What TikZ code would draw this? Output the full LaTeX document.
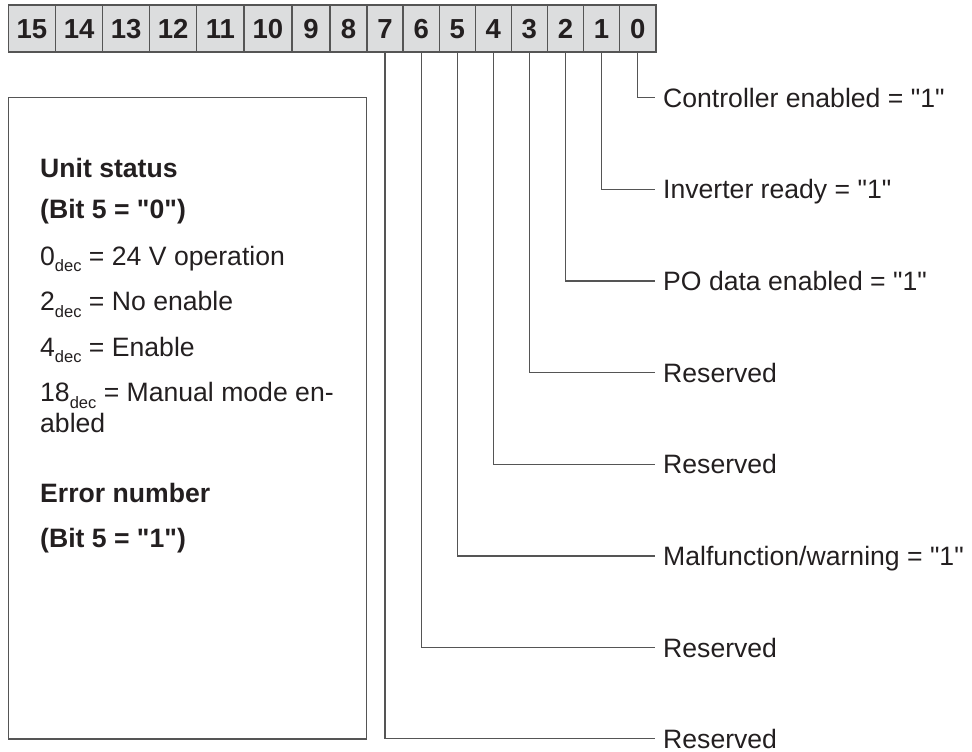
\documentclass[tikz,border=0pt]{standalone}
\usepackage{fontspec}
\setmainfont{Liberation Sans}
\definecolor{ink}{HTML}{231F20}
\definecolor{linec}{HTML}{555555}
\definecolor{cellfill}{HTML}{DCDDDE}
\newcommand{\dsub}{\raisebox{-6.5pt}{\fontsize{16.5}{16.5}\selectfont dec}}
\newcommand{\q}{\textquotedbl}
\tikzset{
  cell/.style={draw=linec, line width=1.3pt, fill=cellfill, inner sep=0pt,
    minimum height=47pt, text height=19.5pt, text depth=0pt, text=ink,
    font=\fontsize{27.5}{28}\selectfont\bfseries},
  lbl/.style={anchor=west, inner xsep=8pt, inner ysep=0pt, text height=19pt,
    text depth=0pt, text=ink, font=\fontsize{26.6}{28}\selectfont},
  boxtxt/.style={anchor=base west, inner sep=0pt, text=ink, font=\fontsize{26.6}{28}\selectfont},
  boxhead/.style={boxtxt, font=\fontsize{26.6}{28}\selectfont\bfseries},
  conn/.style={draw=linec, line width=1.3pt},
  frame/.style={draw=linec, line width=1.3pt, inner sep=0pt}
}
\begin{document}
\begin{tikzpicture}[x=1pt,y=-1pt]
\useasboundingbox (0,0) rectangle (972,752);
% bit cells
\foreach \b/\l/\r in {15/8.3/55.7,14/55.7/102.7,13/102.7/149.7,12/149.7/196.7,
  11/196.7/244,10/244/292,9/292/330,8/330/367,7/367/403,6/403/439.3,
  5/439.3/475.3,4/475.3/511.3,3/511.3/547.3,2/547.3/583.7,1/583.7/619.3,0/619.3/656}
{
  \pgfmathsetmacro{\w}{\r-\l}
  \node[cell, minimum width=\w pt] (c\b) at ({(\l+\r)/2},28.5) {\b};
}
% labels
\node[lbl] (l0) at (655,97.7)  {Controller enabled = \q1\q};
\node[lbl] (l1) at (655,189.3) {Inverter ready = \q1\q};
\node[lbl] (l2) at (655,281) {PO data enabled = \q1\q};
\node[lbl] (l3) at (655,372.6)   {Reserved};
\node[lbl] (l4) at (655,464.2) {Reserved};
\node[lbl] (l5) at (655,555.9) {Malfunction/warning = \q1\q};
\node[lbl] (l6) at (655,647.5) {Reserved};
\node[lbl] (l7) at (655,738.6)   {Reserved};
\foreach \b in {0,...,7}{
  \draw[conn] (c\b.south) |- (l\b.west);
}
% left box
\node[frame, minimum width=358.4pt, minimum height=641.3pt] (box) at (187.5,418.35) {};
\node[boxhead] (t1) at (40,177) {Unit status};
\node[boxhead] (t2) at (40,218.5) {(Bit 5 = \q0\q)};
\node[boxtxt] (t3) at (40,265) {0\dsub{} = 24 V operation};
\node[boxtxt] (t4) at (40,310.5) {2\dsub{} = No enable};
\node[boxtxt] (t5) at (40,356) {4\dsub{} = Enable};
\node[boxtxt] (t6) at (40,401.5) {18\dsub{} = Manual mode en-};
\node[boxtxt] (t7) at (40,432) {abled};
\node[boxhead] (t8) at (40,502) {Error number};
\node[boxhead] (t9) at (40,547.5) {(Bit 5 = \q1\q)};
\end{tikzpicture}
\end{document}
